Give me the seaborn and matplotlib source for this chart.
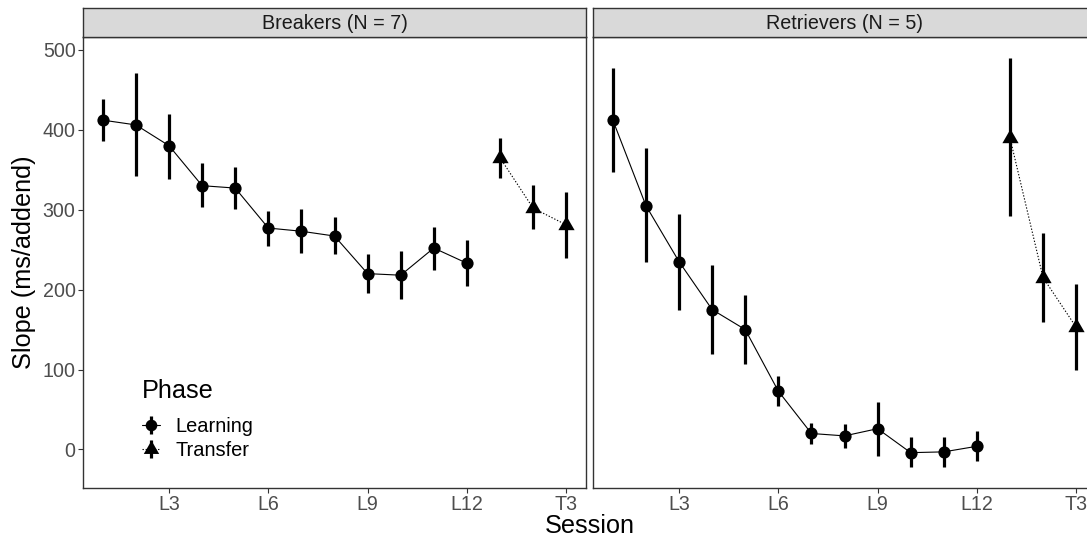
import numpy as np
import pandas as pd
import matplotlib
matplotlib.use("Agg")
import matplotlib.pyplot as plt
from matplotlib.path import Path
from matplotlib.lines import Line2D
from matplotlib.legend_handler import HandlerTuple
import seaborn as sns

# ---- data: mean slope and interval bounds per session ----
sessions = ["L1", "L2", "L3", "L4", "L5", "L6", "L7", "L8", "L9", "L10", "L11", "L12",
            "T1", "T2", "T3"]
phases = ["Learning"] * 12 + ["Transfer"] * 3
tick_labels = ["L3", "L6", "L9", "L12", "T3"]

groups = ["Breakers (N = 7)", "Retrievers (N = 5)"]

breakers_mean = [412, 406, 380, 330, 327, 277, 273, 267, 220, 218, 252, 233, 365, 302, 281]
breakers_lo = [386, 342, 338, 303, 301, 254, 246, 244, 196, 188, 224, 204, 340, 276, 240]
breakers_hi = [438, 471, 420, 358, 353, 298, 301, 291, 244, 248, 278, 262, 390, 331, 322]

retrievers_mean = [412, 305, 235, 175, 150, 73, 20, 17, 26, -4, -3, 4, 390, 215, 153]
retrievers_lo = [347, 234, 175, 120, 107, 54, 7, 2, -8, -22, -22, -14, 292, 160, 99]
retrievers_hi = [477, 377, 295, 231, 193, 92, 33, 32, 60, 15, 15, 23, 490, 271, 207]

frames = []
for g, m, lo, hi in [(groups[0], breakers_mean, breakers_lo, breakers_hi),
                     (groups[1], retrievers_mean, retrievers_lo, retrievers_hi)]:
    frames.append(pd.DataFrame({
        "group": g,
        "session": sessions,
        "pos": np.arange(1, len(sessions) + 1),
        "phase": phases,
        "slope": m,
        "lo": lo,
        "hi": hi,
    }))
df = pd.concat(frames, ignore_index=True)

# ---- style ----
sns.set_theme(style="white")
plt.rcParams["font.family"] = ["Liberation Sans", "DejaVu Sans"]

W, H = 1087, 539
fig = plt.figure(figsize=(W / 100, H / 100), dpi=100)

# triangle centred on its centroid (apex up)
tri = Path([(0, 1), (-0.866, -0.5), (0.866, -0.5), (0, 1)],
           [Path.MOVETO, Path.LINETO, Path.LINETO, Path.CLOSEPOLY])

marker_of = {"Learning": "o", "Transfer": tri}
msize_of = {"Learning": 8.8, "Transfer": 13.5}
ls_of = {"Learning": "-", "Transfer": (0, (1.2, 1.6))}

panel_left = [83, 593]
panel_w = 503
panel_top, panel_bot = 37, 488
strip_top = 8

tick_pos = [sessions.index(t) + 1 for t in tick_labels]
edge = "#333333"
TICK_FS = 14.1
STRIP_FS = 14.2
TITLE_FS = 18.2
LEG_FS = 14.4

axes = []
for i, g in enumerate(groups):
    ax = fig.add_axes([panel_left[i] / W, (H - panel_bot) / H,
                       panel_w / W, (panel_bot - panel_top) / H])
    axes.append(ax)
    sub = df[df["group"] == g]

    # interval bars
    ax.vlines(sub["pos"], sub["lo"], sub["hi"], color="black", linewidth=2.3, zorder=2)

    for ph in ["Learning", "Transfer"]:
        s = sub[sub["phase"] == ph]
        sns.lineplot(data=s, x="pos", y="slope", ax=ax, color="black",
                     linewidth=0.8, linestyle=ls_of[ph], marker=marker_of[ph],
                     markersize=msize_of[ph], markeredgewidth=0,
                     markeredgecolor="black", legend=False, zorder=3)

    ax.set_xlim(0.4, 15.6)
    ax.set_ylim(-48.2, 516)
    ax.set_xticks(tick_pos)
    ax.set_xticklabels(tick_labels)
    ax.set_yticks([0, 100, 200, 300, 400, 500])
    ax.set_xlabel("")
    ax.set_ylabel("")
    ax.tick_params(axis="both", which="both", direction="out", length=3.5,
                   width=0.8, color=edge, labelsize=TICK_FS, labelcolor="#4D4D4D",
                   pad=1.8, bottom=True, left=(i == 0))
    if i > 0:
        ax.set_yticklabels([])
    for sp in ax.spines.values():
        sp.set_visible(True)
        sp.set_color(edge)
        sp.set_linewidth(1.0)
    ax.grid(False)

    # facet strip
    sax = fig.add_axes([panel_left[i] / W, (H - panel_top) / H,
                        panel_w / W, (panel_top - strip_top) / H])
    sax.set_facecolor("#D9D9D9")
    sax.set_xticks([])
    sax.set_yticks([])
    for sp in sax.spines.values():
        sp.set_visible(True)
        sp.set_color(edge)
        sp.set_linewidth(1.0)
    sax.text(0.5, 0.47, g, ha="center", va="center", fontsize=STRIP_FS,
             color="#1A1A1A", transform=sax.transAxes)

# shared axis titles
fig.text(589.5 / W, (H - 533) / H, "Session", ha="center", va="baseline",
         fontsize=TITLE_FS, color="black")
fig.text(24 / W, (H - 262.5) / H, "Slope (ms/addend)", ha="center", va="center",
         rotation=90, fontsize=TITLE_FS, color="black")

# legend inside the first panel
def key(ph):
    bar = Line2D([], [], marker="|", markersize=12.5, markeredgewidth=2.3,
                 color="black", linestyle="none")
    pt = Line2D([], [], marker=marker_of[ph], markersize=msize_of[ph] * 0.95,
                markeredgewidth=0, color="black", linestyle=ls_of[ph], linewidth=0.8)
    return (bar, pt)

ax0 = axes[0]
x_leg = (142 - panel_left[0]) / panel_w
ax0.text(x_leg, (panel_bot - 398) / (panel_bot - panel_top), "Phase",
         transform=ax0.transAxes, ha="left", va="baseline",
         fontsize=TITLE_FS, color="black")
leg = ax0.legend([key("Learning"), key("Transfer")], ["Learning", "Transfer"],
                 handler_map={tuple: HandlerTuple(ndivide=1)},
                 loc="center left",
                 bbox_to_anchor=(x_leg, (panel_bot - 438.5) / (panel_bot - panel_top)),
                 frameon=False, fontsize=LEG_FS,
                 handlelength=0.9, handletextpad=0.75, labelspacing=0.25,
                 borderpad=0, borderaxespad=0)
for t in leg.get_texts():
    t.set_color("black")

fig.savefig("out.png", dpi=100)
